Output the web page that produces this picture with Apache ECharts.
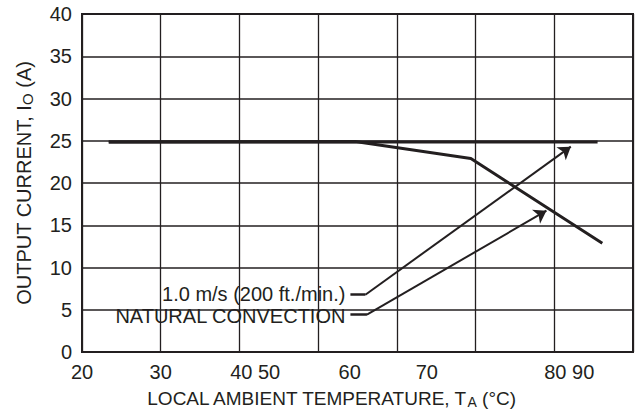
<!DOCTYPE html>
<html>
<head>
<meta charset="utf-8">
<script src="https://cdn.jsdelivr.net/npm/echarts@6/dist/echarts.min.js"></script>
<style>html,body{margin:0;padding:0;background:#fff;}#c{width:639px;height:411px;}</style>
</head>
<body>
<div id="c"></div>
<script>
// x axis is drawn in grid-column units (7 equal columns); tick labels sit where the reference prints them
const xTickPositions = [0, 1, 2.2, 3.4, 4.38, 6.19];
const xTickLabels = ['20', '30', '40 50', '60', '70', '80 90'];
const yMin = 0, yMax = 40, yStep = 5;

// 1.0 m/s (200 ft./min.) curve
const airflowX = [0.34, 6.55];
const airflowY = [24.85, 24.85];
// natural convection curve
const naturalX = [0.34, 3.47, 4.94, 6.61];
const naturalY = [24.85, 24.9, 22.9, 12.86];

// annotation leaders: short horizontal stub, then a diagonal ending in an arrow
const annotationLabels = ['1.0 m/s (200 ft./min.)', 'NATURAL CONVECTION'];
const leader1X = [3.41, 3.60, 6.21];
const leader1Y = [6.78, 6.78, 24.3];
const leader2X = [3.41, 3.62, 5.90];
const leader2Y = [4.42, 4.42, 16.72];

const ink = '#231f20';
const font = 'Arial, "Liberation Sans", sans-serif';
const zip = (xs, ys) => xs.map((x, i) => [x, ys[i]]);
const seg = (xs, ys, a, b) => [[xs[a], ys[a]], [xs[b], ys[b]]];

const chart = echarts.init(document.getElementById('c'), null, {renderer: 'svg'});
chart.setOption({
  animation: false,
  backgroundColor: '#fff',
  grid: {left: 82, right: 6, top: 14, bottom: 59, outerBoundsMode: 'none', containLabel: false,
         show: true, borderColor: ink, borderWidth: 2, backgroundColor: 'transparent'},
  xAxis: {
    type: 'value', min: 0, max: 7, interval: 1,
    axisLine: {show: true, lineStyle: {color: ink, width: 2}},
    axisTick: {show: false},
    splitLine: {show: true, lineStyle: {color: ink, width: 1.3}},
    axisLabel: {
      customValues: xTickPositions,
      color: ink, fontFamily: font, fontSize: 20, margin: 10,
      formatter: function (v) {
        for (let i = 0; i < xTickPositions.length; i++) {
          if (Math.abs(xTickPositions[i] - v) < 1e-6) return xTickLabels[i];
        }
        return '';
      }
    },
    name: '{m|LOCAL AMBIENT TEMPERATURE, T}{s|A}{m| (°C)}',
    nameLocation: 'middle', nameGap: 35,
    nameTextStyle: {
      padding: [0, 53, 0, 0],
      rich: {
        m: {fontSize: 19, fontFamily: font, color: ink, lineHeight: 22},
        s: {fontSize: 14, fontFamily: font, color: ink, lineHeight: 20, verticalAlign: 'bottom'}
      }
    }
  },
  yAxis: {
    type: 'value', min: yMin, max: yMax, interval: yStep,
    axisLine: {show: true, lineStyle: {color: ink, width: 2}},
    axisTick: {show: false},
    splitLine: {show: true, lineStyle: {color: ink, width: 1.6}},
    axisLabel: {color: ink, fontFamily: font, fontSize: 20, margin: 10},
    name: '{m|OUTPUT CURRENT, I}{s|O}{m| (A)}',
    nameLocation: 'middle', nameGap: 47, nameRotate: 90,
    nameTextStyle: {
      rich: {
        m: {fontSize: 20, fontFamily: font, color: ink, lineHeight: 22},
        s: {fontSize: 15, fontFamily: font, color: ink, lineHeight: 20, verticalAlign: 'bottom'}
      }
    }
  },
  series: [
    {
      type: 'line', data: zip(airflowX, airflowY), symbol: 'none',
      lineStyle: {color: ink, width: 3}, z: 5
    },
    {
      type: 'line', data: zip(naturalX, naturalY), symbol: 'none',
      lineStyle: {color: ink, width: 3}, z: 5
    },
    {
      type: 'lines', coordinateSystem: 'cartesian2d',
      symbol: ['none', 'none'],
      lineStyle: {color: ink, width: 2.5, opacity: 1},
      data: [
        {coords: seg(leader1X, leader1Y, 0, 1)},
        {coords: seg(leader2X, leader2Y, 0, 1)}
      ],
      z: 6
    },
    {
      type: 'lines', coordinateSystem: 'cartesian2d',
      symbol: ['none', 'arrow'], symbolSize: [7, 12],
      lineStyle: {color: ink, width: 2, opacity: 1},
      data: [
        {coords: seg(leader1X, leader1Y, 1, 2)},
        {coords: seg(leader2X, leader2Y, 1, 2)}
      ],
      z: 6
    },
    {
      type: 'scatter', symbolSize: 0,
      itemStyle: {opacity: 1, color: ink},
      data: [
        {name: annotationLabels[0], value: [leader1X[0], leader1Y[0]], label: {offset: [0, -1]}},
        {name: annotationLabels[1], value: [leader2X[0], leader2Y[0]], label: {offset: [0, 1]}}
      ],
      label: {show: true, position: 'left', distance: 5, formatter: '{b}', color: ink, fontFamily: font, fontSize: 20, lineHeight: 18},
      silent: true, z: 7
    }
  ]
});
</script>
</body>
</html>
